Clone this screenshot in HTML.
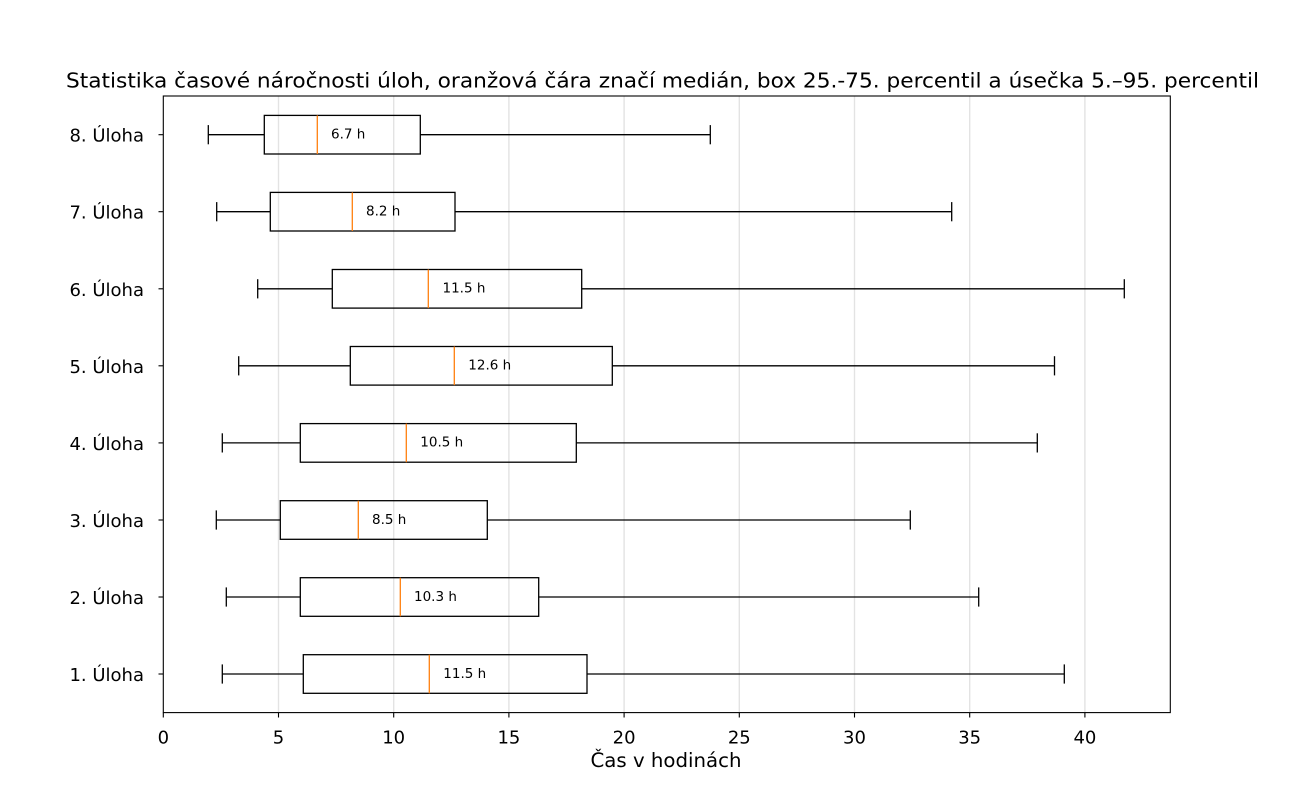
<!DOCTYPE html>
<html>
<head>
<meta charset="utf-8">
<style>
html,body{margin:0;padding:0;background:#fff;}
svg{display:block;}
text{font-family:"DejaVu Sans","Liberation Sans",sans-serif;fill:#000;}
</style>
</head>
<body>
<svg width="1300" height="800" viewBox="0 0 1300 800" xmlns="http://www.w3.org/2000/svg">
<rect x="0" y="0" width="1300" height="800" fill="#fff"/>
<!-- grid -->
<g stroke="#e3e3e3" stroke-width="1.4">
<line x1="278.5" y1="96" x2="278.5" y2="712.5"/>
<line x1="393.7" y1="96" x2="393.7" y2="712.5"/>
<line x1="508.9" y1="96" x2="508.9" y2="712.5"/>
<line x1="624.1" y1="96" x2="624.1" y2="712.5"/>
<line x1="739.3" y1="96" x2="739.3" y2="712.5"/>
<line x1="854.5" y1="96" x2="854.5" y2="712.5"/>
<line x1="969.7" y1="96" x2="969.7" y2="712.5"/>
<line x1="1084.9" y1="96" x2="1084.9" y2="712.5"/>
</g>

<!-- boxes -->
<g stroke="#000" stroke-width="1.3" fill="none">
<!-- row 8 -->
<line x1="208.3" y1="134.7" x2="264.3" y2="134.7"/><line x1="420.3" y1="134.7" x2="710.3" y2="134.7"/>
<line x1="208.3" y1="125.1" x2="208.3" y2="144.3"/><line x1="710.3" y1="125.1" x2="710.3" y2="144.3"/>
<rect x="264.3" y="115.4" width="156" height="38.6"/>
<!-- row 7 -->
<line x1="216.7" y1="211.7" x2="270.3" y2="211.7"/><line x1="455" y1="211.7" x2="951.7" y2="211.7"/>
<line x1="216.7" y1="202.1" x2="216.7" y2="221.3"/><line x1="951.7" y1="202.1" x2="951.7" y2="221.3"/>
<rect x="270.3" y="192.4" width="184.7" height="38.6"/>
<!-- row 6 -->
<line x1="257.7" y1="288.8" x2="332.3" y2="288.8"/><line x1="581.7" y1="288.8" x2="1124.3" y2="288.8"/>
<line x1="257.7" y1="279.2" x2="257.7" y2="298.4"/><line x1="1124.3" y1="279.2" x2="1124.3" y2="298.4"/>
<rect x="332.3" y="269.5" width="249.4" height="38.6"/>
<!-- row 5 -->
<line x1="238.7" y1="365.8" x2="350.3" y2="365.8"/><line x1="612.3" y1="365.8" x2="1054.5" y2="365.8"/>
<line x1="238.7" y1="356.2" x2="238.7" y2="375.4"/><line x1="1054.5" y1="356.2" x2="1054.5" y2="375.4"/>
<rect x="350.3" y="346.5" width="262" height="38.6"/>
<!-- row 4 -->
<line x1="222.3" y1="442.9" x2="300.3" y2="442.9"/><line x1="576.3" y1="442.9" x2="1037.3" y2="442.9"/>
<line x1="222.3" y1="433.3" x2="222.3" y2="452.5"/><line x1="1037.3" y1="433.3" x2="1037.3" y2="452.5"/>
<rect x="300.3" y="423.6" width="276" height="38.6"/>
<!-- row 3 -->
<line x1="216.3" y1="520" x2="280.3" y2="520"/><line x1="487.3" y1="520" x2="910.3" y2="520"/>
<line x1="216.3" y1="510.4" x2="216.3" y2="529.6"/><line x1="910.3" y1="510.4" x2="910.3" y2="529.6"/>
<rect x="280.3" y="500.7" width="207" height="38.6"/>
<!-- row 2 -->
<line x1="226.3" y1="597" x2="300.3" y2="597"/><line x1="538.7" y1="597" x2="978.7" y2="597"/>
<line x1="226.3" y1="587.4" x2="226.3" y2="606.6"/><line x1="978.7" y1="587.4" x2="978.7" y2="606.6"/>
<rect x="300.3" y="577.7" width="238.4" height="38.6"/>
<!-- row 1 -->
<line x1="222.3" y1="674" x2="303.3" y2="674"/><line x1="587" y1="674" x2="1064.3" y2="674"/>
<line x1="222.3" y1="664.4" x2="222.3" y2="683.6"/><line x1="1064.3" y1="664.4" x2="1064.3" y2="683.6"/>
<rect x="303.3" y="654.7" width="283.7" height="38.6"/>
</g>

<!-- medians -->
<g stroke="#ff7f0e" stroke-width="1.3">
<line x1="317.3" y1="115.4" x2="317.3" y2="154"/>
<line x1="352.3" y1="192.4" x2="352.3" y2="231"/>
<line x1="428.3" y1="269.5" x2="428.3" y2="308.1"/>
<line x1="454.3" y1="346.5" x2="454.3" y2="385.1"/>
<line x1="406.3" y1="423.6" x2="406.3" y2="462.2"/>
<line x1="358.3" y1="500.7" x2="358.3" y2="539.3"/>
<line x1="400.3" y1="577.7" x2="400.3" y2="616.3"/>
<line x1="429.3" y1="654.7" x2="429.3" y2="693.3"/>
</g>

<!-- median labels -->
<g font-size="13.5">
<text x="331" y="138.5">6.7 h</text>
<text x="366" y="215.5">8.2 h</text>
<text x="442.5" y="292.6">11.5 h</text>
<text x="468.3" y="369.6">12.6 h</text>
<text x="420.3" y="446.7">10.5 h</text>
<text x="372" y="523.8">8.5 h</text>
<text x="414" y="600.8">10.3 h</text>
<text x="443.3" y="677.8">11.5 h</text>
</g>

<!-- axes frame -->
<rect x="163.3" y="96" width="1007" height="616.6" fill="none" stroke="#000" stroke-width="1.1"/>

<!-- y ticks -->
<g stroke="#000" stroke-width="1.1">
<line x1="158.5" y1="134.7" x2="163.3" y2="134.7"/>
<line x1="158.5" y1="211.7" x2="163.3" y2="211.7"/>
<line x1="158.5" y1="288.8" x2="163.3" y2="288.8"/>
<line x1="158.5" y1="365.8" x2="163.3" y2="365.8"/>
<line x1="158.5" y1="442.9" x2="163.3" y2="442.9"/>
<line x1="158.5" y1="520" x2="163.3" y2="520"/>
<line x1="158.5" y1="597" x2="163.3" y2="597"/>
<line x1="158.5" y1="674" x2="163.3" y2="674"/>
<!-- x ticks -->
<line x1="163.3" y1="712.6" x2="163.3" y2="717.5"/>
<line x1="278.5" y1="712.6" x2="278.5" y2="717.5"/>
<line x1="393.7" y1="712.6" x2="393.7" y2="717.5"/>
<line x1="508.9" y1="712.6" x2="508.9" y2="717.5"/>
<line x1="624.1" y1="712.6" x2="624.1" y2="717.5"/>
<line x1="739.3" y1="712.6" x2="739.3" y2="717.5"/>
<line x1="854.5" y1="712.6" x2="854.5" y2="717.5"/>
<line x1="969.7" y1="712.6" x2="969.7" y2="717.5"/>
<line x1="1084.9" y1="712.6" x2="1084.9" y2="717.5"/>
</g>

<!-- y tick labels -->
<g font-size="18" text-anchor="end">
<text x="144" y="141.7">8. Úloha</text>
<text x="144" y="218.7">7. Úloha</text>
<text x="144" y="295.8">6. Úloha</text>
<text x="144" y="372.8">5. Úloha</text>
<text x="144" y="449.9">4. Úloha</text>
<text x="144" y="527">3. Úloha</text>
<text x="144" y="604">2. Úloha</text>
<text x="144" y="681">1. Úloha</text>
</g>

<!-- x tick labels -->
<g font-size="18" text-anchor="middle">
<text x="163.3" y="743.3">0</text>
<text x="278.5" y="743.3">5</text>
<text x="393.7" y="743.3">10</text>
<text x="508.9" y="743.3">15</text>
<text x="624.1" y="743.3">20</text>
<text x="739.3" y="743.3">25</text>
<text x="854.5" y="743.3">30</text>
<text x="969.7" y="743.3">35</text>
<text x="1084.9" y="743.3">40</text>
</g>

<text x="666" y="767" font-size="19.8" text-anchor="middle" textLength="151" lengthAdjust="spacingAndGlyphs">Čas v hodinách</text>

<text x="662.5" y="87.5" font-size="20.5" text-anchor="middle" textLength="1193" lengthAdjust="spacingAndGlyphs">Statistika časové náročnosti úloh, oranžová čára značí medián, box 25.-75. percentil a úsečka 5.–95. percentil</text>
</svg>
</body>
</html>
